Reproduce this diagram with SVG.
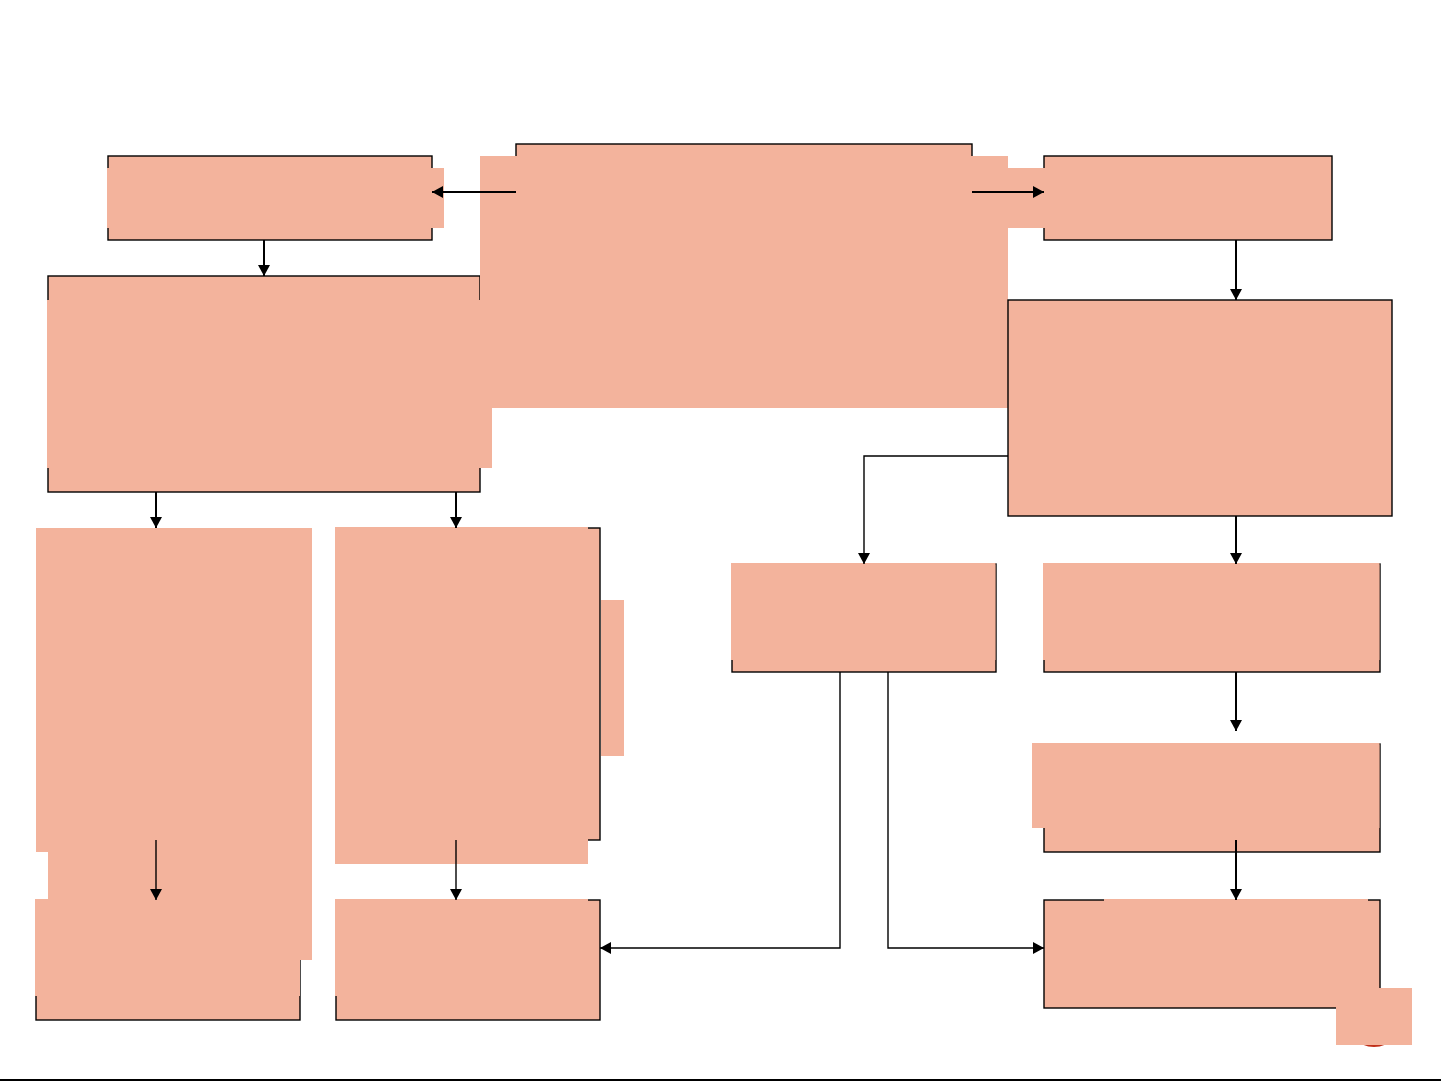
<svg xmlns="http://www.w3.org/2000/svg" width="1441" height="1081" viewBox="0 0 1441 1081">
<style>
.box{fill:#F3B39C;stroke:#000;stroke-width:1.4}
.fill{fill:#F3B39C;stroke:none}
.con{fill:none;stroke:#000;stroke-width:2}
.thin{fill:none;stroke:#000;stroke-width:1.4}
</style>
<defs>
<marker id="ah" markerUnits="userSpaceOnUse" markerWidth="13" markerHeight="13" refX="11" refY="6" orient="auto">
<path d="M0,0 L11,6 L0,12 z" fill="#000"/>
</marker>
</defs>
<rect width="1441" height="1081" fill="#fff"/>

<g id="nodeB">
<rect class="box" x="48" y="276" width="432" height="216"/>
<rect class="fill" x="47" y="300" width="445" height="168"/>
</g>
<g id="nodeA">
<rect class="box" x="108" y="156" width="324" height="84"/>
<rect class="fill" x="107" y="168" width="337" height="60"/>
</g>
<g id="nodeC">
<rect class="box" x="516" y="144" width="456" height="252"/>
<rect class="fill" x="480" y="156" width="528" height="252"/>
</g>
<g id="nodeD">
<rect class="box" x="1044" y="156" width="288" height="84"/>
<rect class="fill" x="1008" y="168" width="37" height="60"/>
</g>
<g id="nodeE">
<rect class="box" x="1008" y="300" width="384" height="216"/>
</g>
<g id="nodeH">
<rect class="box" x="36" y="900" width="264" height="120"/>
</g>
<g id="nodeG">
<rect class="fill" x="36" y="528" width="276" height="324"/>
<rect class="fill" x="48" y="528" width="264" height="432"/>
<rect class="fill" x="35" y="899" width="265" height="97"/>
</g>
<g id="nodeI">
<rect class="box" x="336" y="528" width="264" height="312"/>
<rect class="fill" x="335" y="527" width="253" height="337"/>
<rect class="fill" x="601" y="600" width="23" height="156"/>
</g>
<g id="nodeJ">
<rect class="box" x="336" y="900" width="264" height="120"/>
<rect class="fill" x="335" y="899" width="253" height="97"/>
</g>
<g id="nodeF">
<rect class="box" x="732" y="564" width="264" height="108"/>
<rect class="fill" x="731" y="563" width="264.5" height="97"/>
</g>
<g id="nodeK">
<rect class="box" x="1044" y="564" width="336" height="108"/>
<rect class="fill" x="1043" y="563" width="336.5" height="97"/>
</g>
<g id="nodeL">
<rect class="box" x="1044" y="744" width="336" height="108"/>
<rect class="fill" x="1032" y="743" width="347.5" height="85"/>
</g>
<g id="nodeM">
<circle cx="1374" cy="1018" r="29" fill="#C0301A"/>
<rect class="box" x="1044" y="900" width="336" height="108"/>
<rect class="fill" x="1104" y="899" width="264" height="40"/>
<rect class="fill" x="1336" y="988" width="76" height="57"/>
</g>

<g id="connectors">
<path class="con" d="M516,192 H432" marker-end="url(#ah)"/>
<path class="con" d="M972,192 H1044" marker-end="url(#ah)"/>
<path class="con" d="M264,240 V276" marker-end="url(#ah)"/>
<path class="con" d="M1236,240 V300" marker-end="url(#ah)"/>
<path class="con" d="M156,492 V528" marker-end="url(#ah)"/>
<path class="con" d="M456,492 V528" marker-end="url(#ah)"/>
<path class="thin" d="M156,840 V900" marker-end="url(#ah)"/>
<path class="thin" d="M456,840 V900" marker-end="url(#ah)"/>
<path class="thin" d="M1008,456 H864 V564" marker-end="url(#ah)"/>
<path class="con" d="M1236,516 V564" marker-end="url(#ah)"/>
<path class="thin" d="M840,672 V948 H600" marker-end="url(#ah)"/>
<path class="thin" d="M888,672 V948 H1044" marker-end="url(#ah)"/>
<path class="con" d="M1236,672 V731" marker-end="url(#ah)"/>
<path class="con" d="M1236,840 V900" marker-end="url(#ah)"/>
</g>
<rect x="0" y="1079" width="1441" height="2" fill="#000"/>
</svg>
